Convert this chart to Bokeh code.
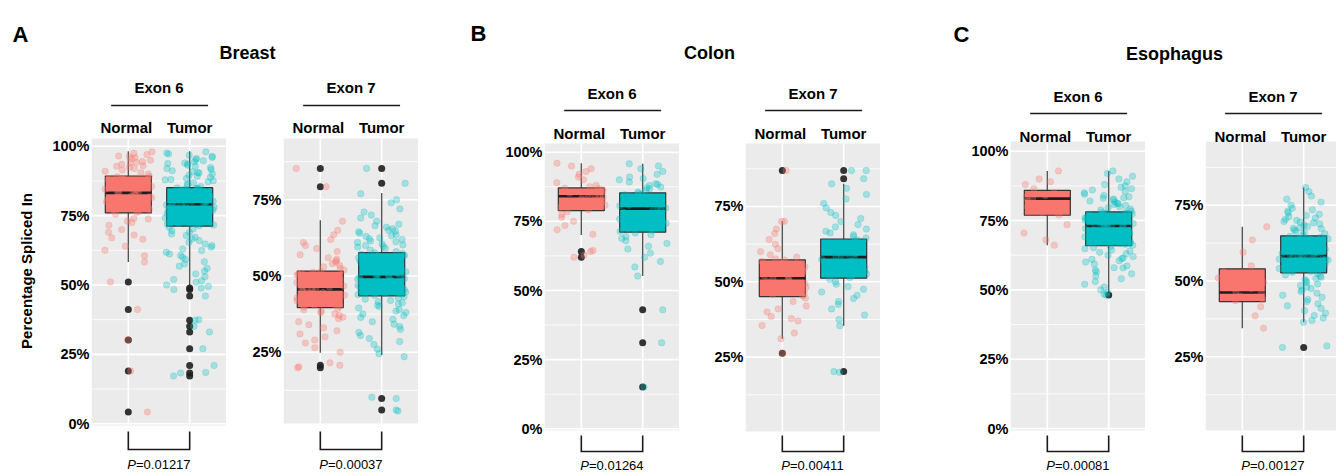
import math
from bokeh.plotting import figure
from bokeh.models import Range1d, FixedTicker, PrintfTickFormatter
from bokeh.layouts import column, row
from bokeh.embed import file_html
from bokeh.resources import INLINE
from bokeh.core.properties import value

# ---------------- data ----------------
groups = ["Normal", "Tumor"]
tissues = ["Breast", "Colon", "Esophagus"]
panel_letters = ["A", "B", "C"]
exon_labels = ["Exon 6", "Exon 7"]
p_values = ["0.01217", "0.00037", "0.01264", "0.00411", "0.00081", "0.00127"]
y_title = "Percentage Spliced In"
ticks_exon6 = [0, 25, 50, 75, 100]
ticks_exon7 = [25, 50, 75]
minor_ticks = [12.5, 37.5, 62.5, 87.5]

# box stats: [lower whisker, Q1, median, Q3, upper whisker]
breast_e6_box_normal = [58.3, 76.0, 83.2, 89.3, 98.2]
breast_e6_box_tumor = [49.9, 71.2, 79.1, 85.1, 98.2]
breast_e6_out_normal = [51.1, 41.2, 30.2, 19.0, 4.2]
breast_e6_out_tumor = [48.9, 48.4, 46.0, 37.3, 35.1, 33.1, 27.0, 21.0, 18.3, 17.2]
breast_e6_normal = [90, 91, 91.5, 92, 92.5, 93, 93.5, 94, 94.5, 95, 95.5, 96, 96.5, 97, 97.5, 98, 90.5, 92.8, 94.2, 96.2,
                    83.5, 84, 84.5, 85, 85.5, 86, 86.5, 87, 87.5, 88, 88.5, 89, 84.2, 85.8, 86.8, 87.8, 88.2, 89.1, 83.8, 86.2,
                    76.5, 77, 77.5, 78, 78.5, 79, 79.5, 80, 80.5, 81, 81.5, 82, 82.5, 83, 77.2, 78.8, 80.2, 81.8, 79.8, 76.2,
                    75.5, 74, 73, 72.5, 71.5, 70, 69, 68, 67, 66.5, 64, 62.5, 60.5, 58.3, 51.1, 41.2, 30.2, 19.0, 4.2, 73.8]
breast_e6_tumor = [85.5, 86, 86.4, 86.8, 87.2, 87.6, 88, 88.4, 88.8, 89.2, 89.6, 90, 90.4, 90.8, 91.2, 91.6, 92, 92.4, 92.8,
                   93.2, 93.6, 94, 94.4, 94.8, 95.2, 95.6, 96, 96.4, 96.8, 97.2, 97.6, 98, 87.9, 90.6, 93.8,
                   79.3, 79.6, 79.9, 80.2, 80.5, 80.8, 81.1, 81.4, 81.7, 82, 82.3, 82.6, 82.9, 83.2, 83.5, 83.8, 84.1, 84.4,
                   84.7, 85, 79.4, 80.1, 80.9, 81.6, 82.4, 83.1, 83.9, 84.6, 80.4, 81.3, 82.1, 82.8, 83.6, 84.3, 84.9,
                   71.4, 71.8, 72.2, 72.6, 73, 73.4, 73.8, 74.2, 74.6, 75, 75.4, 75.8, 76.2, 76.6, 77, 77.4, 77.8, 78.2,
                   78.6, 79, 71.6, 72.4, 73.2, 74, 74.8, 75.6, 76.4, 77.2, 78, 78.8, 72, 73.6, 75.2, 76.8, 78.4,
                   70.8, 70.2, 69.6, 69, 68.4, 67.8, 67.2, 66.6, 66, 65.4, 64.8, 64.2, 63.6, 63, 62.4, 61.8, 61.2, 60.6,
                   60, 59.2, 58.4, 57.6, 56.8, 56, 55, 54, 53, 52, 51, 50, 48.9, 48.4, 46, 37.3, 35.1, 33.1, 27, 21,
                   18.3, 17.2, 37.5, 18.5, 49.5, 51.5]

breast_e7_box_normal = [24.8, 39.6, 45.6, 51.6, 68.3]
breast_e7_box_tumor = [24.1, 43.5, 49.7, 57.7, 77.2]
breast_e7_out_normal = [85.3, 79.3, 20.7, 19.9]
breast_e7_out_tumor = [85.3, 80.4, 9.8, 6.0]
breast_e7_normal = [52, 52.5, 53, 53.5, 54, 54.5, 55, 55.5, 56, 57, 58, 59, 60, 61, 62, 63.5, 65, 68, 85.3, 79.3,
                    45.8, 46.1, 46.4, 46.7, 47, 47.3, 47.6, 47.9, 48.2, 48.5, 48.8, 49.1, 49.4, 49.7, 50, 50.3, 50.6,
                    50.9, 51.2, 51.5,
                    39.8, 40.1, 40.4, 40.7, 41, 41.3, 41.6, 41.9, 42.2, 42.5, 42.8, 43.1, 43.4, 43.7, 44, 44.3, 44.6,
                    44.9, 45.2, 45.5,
                    39.3, 38.9, 38.5, 38, 37.5, 37, 36.5, 36, 35, 34, 33, 32, 31, 30, 29, 28, 26.5, 25, 20.7, 19.9,
                    21.5, 20.2]
breast_e7_tumor = [58, 58.5, 59, 59.5, 60, 60.5, 61, 61.5, 62, 62.5, 63, 63.5, 64, 64.5, 65, 65.5, 66, 67, 68, 69, 70,
                   71, 72, 74, 75, 77, 85.3, 80.4, 60.2, 61.2, 62.2, 63.2, 59.7, 64.8, 66.5,
                   49.9, 50.2, 50.5, 50.8, 51.1, 51.4, 51.7, 52, 52.3, 52.6, 52.9, 53.2, 53.5, 53.8, 54.1, 54.4, 54.7,
                   55, 55.3, 55.6, 55.9, 56.2, 56.5, 56.8, 57.1, 57.4, 57.6, 50.4, 51.3, 52.4, 53.6, 54.6, 55.8, 56.7, 51.9,
                   43.7, 43.9, 44.1, 44.3, 44.5, 44.7, 44.9, 45.1, 45.3, 45.5, 45.7, 45.9, 46.1, 46.3, 46.5, 46.7, 46.9,
                   47.1, 47.3, 47.5, 47.7, 47.9, 48.1, 48.3, 48.5, 48.7, 48.9, 49.1, 49.3, 49.5, 44.2, 45.4, 46.6, 47.8, 49,
                   43.2, 42.8, 42.4, 42, 41.6, 41.2, 40.8, 40.4, 40, 39.5, 39, 38.5, 38, 37.5, 37, 36.4, 35.8, 35, 34.2,
                   33.4, 32.5, 31.5, 30.5, 29.5, 28.5, 27.5, 26, 24.5, 23.5, 9.8, 6, 5.7, 10.2]

colon_e6_box_normal = [70.1, 78.9, 84.1, 87.1, 96.0]
colon_e6_box_tumor = [55.2, 71.1, 79.6, 85.3, 95.8]
colon_e6_out_normal = [64.1, 62.0]
colon_e6_out_tumor = [43.0, 31.1, 15.1]
colon_e6_normal = [87.5, 88, 89, 90, 91, 92, 93, 94, 95, 96,
                   84.3, 84.8, 85.2, 85.6, 86, 86.4, 86.8, 87,
                   79.2, 80, 80.8, 81.6, 82.4, 83.2, 83.8, 84,
                   78.5, 77.5, 76.5, 75, 73.5, 72, 70.3, 64.1, 62.0, 64.5, 62.7]
colon_e6_tumor = [85.6, 86.2, 86.8, 87.4, 88, 88.6, 89.2, 90, 91, 92, 93, 94, 95, 95.8, 87.1, 88.3, 90.5,
                  79.8, 80.3, 80.8, 81.3, 81.8, 82.3, 82.8, 83.3, 83.8, 84.3, 84.8, 85.1, 80.6, 82, 83.6, 84.6,
                  71.3, 71.8, 72.3, 72.8, 73.3, 73.8, 74.3, 74.8, 75.3, 75.8, 76.3, 76.8, 77.3, 77.8, 78.3, 78.8, 79.3,
                  70.8, 70.2, 69.5, 68.8, 68, 67, 66, 65, 63.5, 62, 60.5, 58.5, 55.2, 43, 31.1, 15.1]

colon_e7_box_normal = [31.1, 45.1, 51.2, 57.3, 70.1]
colon_e7_box_tumor = [35.4, 51.2, 58.2, 64.2, 82.5]
colon_e7_out_normal = [86.9, 26.3]
colon_e7_out_tumor = [86.9, 84.2, 20.2]
colon_e7_normal = [57.6, 58.2, 59, 60, 61, 62.5, 64, 66, 67.5, 70.1, 70, 86.9,
                   51.5, 52, 52.6, 53.2, 53.8, 54.4, 55, 55.6, 56.2, 56.8, 57.2,
                   45.3, 45.8, 46.4, 47, 47.6, 48.2, 48.8, 49.4, 50, 50.6, 51.1,
                   44.6, 43.5, 42, 41, 40, 38.5, 37.8, 37, 35.5, 33, 31.1, 26.3]
colon_e7_tumor = [64.5, 65, 65.6, 66.2, 66.8, 67.5, 68.2, 69, 70, 71, 72, 73, 74.5, 76, 77.5, 79, 81, 82.5, 84.2, 86.9, 86.9,
                  58.4, 58.9, 59.4, 59.9, 60.4, 60.9, 61.4, 61.9, 62.4, 62.9, 63.4, 63.9, 59.1, 60.2, 61.1,
                  51.4, 51.9, 52.4, 52.9, 53.4, 53.9, 54.4, 54.9, 55.4, 55.9, 56.4, 56.9, 57.4, 57.9, 52.6,
                  50.8, 50, 49.2, 48.4, 47.5, 46.6, 45.5, 44.5, 43.5, 42.5, 41, 39, 37.5, 35.4, 20.2, 20]

esoph_e6_box_normal = [66.1, 76.9, 82.9, 85.9, 92.9]
esoph_e6_box_tumor = [49.0, 65.9, 73.0, 78.1, 92.9]
esoph_e6_out_normal = []
esoph_e6_out_tumor = [48.1]
esoph_e6_normal = [92.9, 90, 89, 88, 86.5, 85, 84, 83.5, 83, 82, 80, 79, 78, 77, 73.5, 70.5, 66.1, 68]
esoph_e6_tumor = [78.4, 78.8, 79.2, 79.6, 80, 80.4, 80.8, 81.2, 81.6, 82, 82.4, 82.8, 83.2, 83.6, 84, 84.5, 85, 85.5,
                  86, 86.5, 87, 87.5, 88, 89, 90, 91, 92, 92.9, 81, 83,
                  73.2, 73.5, 73.8, 74.1, 74.4, 74.7, 75, 75.3, 75.6, 75.9, 76.2, 76.5, 76.8, 77.1, 77.4, 77.7, 78,
                  73.9, 74.9, 75.9, 76.9, 77.6, 74.3, 75.4, 76.3, 77.3, 73.4, 75.1, 76.6, 77.9,
                  66.1, 66.4, 66.7, 67, 67.3, 67.6, 67.9, 68.2, 68.5, 68.8, 69.1, 69.4, 69.7, 70, 70.3, 70.6, 70.9,
                  71.2, 71.5, 71.8, 72.1, 72.4, 72.7, 72.9, 66.9, 68, 69.2, 70.4, 71.6, 72.6,
                  65.6, 65.2, 64.8, 64.4, 64, 63.5, 63, 62.5, 62, 61.5, 61, 60.5, 60, 59.3, 58.6, 57.9, 57.2, 56.5,
                  55.8, 55, 54, 53, 52, 51, 50, 49, 48.1, 48.5, 58, 61.3]

esoph_e7_box_normal = [34.4, 43.2, 46.2, 54.0, 67.9]
esoph_e7_box_tumor = [36.4, 52.7, 58.2, 64.9, 80.8]
esoph_e7_out_normal = []
esoph_e7_out_tumor = [28.1]
esoph_e7_normal = [67.9, 63.5, 59.5, 55, 53, 51, 49.5, 47.5, 46.5, 46, 45, 44, 43.5, 41.5, 38.5, 34.4]
esoph_e7_tumor = [65.2, 65.6, 66, 66.4, 66.8, 67.2, 67.6, 68, 68.4, 68.8, 69.2, 69.6, 70, 70.4, 70.8, 71.2, 71.6, 72,
                  72.5, 73, 73.5, 74, 75, 76, 77, 78, 79.5, 80.8, 67.4, 69.4,
                  58.4, 58.7, 59, 59.3, 59.6, 59.9, 60.2, 60.5, 60.8, 61.1, 61.4, 61.7, 62, 62.3, 62.6, 62.9, 63.2,
                  63.5, 63.8, 64.1, 64.4, 64.7, 59.1, 60.4, 61.6, 62.8, 63.9, 58.9, 61.2, 64.2,
                  52.9, 53.1, 53.3, 53.5, 53.7, 53.9, 54.1, 54.3, 54.5, 54.7, 54.9, 55.1, 55.3, 55.5, 55.7, 55.9,
                  56.1, 56.3, 56.5, 56.7, 56.9, 57.1, 57.3, 57.5, 57.7, 57.9, 58.1, 54, 55.6, 57.2,
                  52.4, 52, 51.6, 51.2, 50.8, 50.4, 50, 49.5, 49, 48.5, 48, 47.5, 47, 46.5, 46, 45.3, 44.6, 43.9,
                  43.2, 42.5, 41.8, 41, 40.2, 39.4, 38.6, 37.8, 37, 36.4, 28.1, 28.6]

# ---------------- styling / layout ----------------
PINK = "#F8766D"
TEAL = "#00BFC4"
FONT = "Liberation Sans"
PX_PER_UNIT = 135 / 2.2
TOP = 68       # page y where panel figures start
BOTTOM = 473   # page y where panel figures end
PANEL_H = BOTTOM - TOP
HEADER_H = TOP
PAGE_W = 1336

geometry = [
    dict(cl=0, fl=91, fr=226, y0=423.2, ppp=2.774, ptop=138, pbot=425, tb=87, ly=105, lb=127, bt=431, bb=449, pb=464),
    dict(cl=226, fl=283, fr=418, y0=427.9, ppp=3.048, ptop=138, pbot=423, tb=87, ly=105, lb=127, bt=431, bb=449, pb=464),
    dict(cl=418, fl=544, fr=679, y0=428.3, ppp=2.766, ptop=143, pbot=430, tb=93, ly=110, lb=133, bt=435, bb=451, pb=465),
    dict(cl=679, fl=745, fr=880, y0=432.0, ppp=3.014, ptop=143, pbot=431, tb=93, ly=110, lb=133, bt=435, bb=451, pb=465),
    dict(cl=880, fl=1010, fr=1145, y0=428.0, ppp=2.773, ptop=141, pbot=430, tb=96, ly=113, lb=136, bt=435, bb=451, pb=465),
    dict(cl=1145, fl=1205, fr=1336, y0=432.1, ppp=3.032, ptop=141, pbot=430, tb=96, ly=113, lb=136, bt=435, bb=451, pb=465),
]

panels = [
    (exon_labels[0], p_values[0], breast_e6_normal, breast_e6_tumor, breast_e6_box_normal, breast_e6_box_tumor,
     breast_e6_out_normal, breast_e6_out_tumor, ticks_exon6),
    (exon_labels[1], p_values[1], breast_e7_normal, breast_e7_tumor, breast_e7_box_normal, breast_e7_box_tumor,
     breast_e7_out_normal, breast_e7_out_tumor, ticks_exon7),
    (exon_labels[0], p_values[2], colon_e6_normal, colon_e6_tumor, colon_e6_box_normal, colon_e6_box_tumor,
     colon_e6_out_normal, colon_e6_out_tumor, ticks_exon6),
    (exon_labels[1], p_values[3], colon_e7_normal, colon_e7_tumor, colon_e7_box_normal, colon_e7_box_tumor,
     colon_e7_out_normal, colon_e7_out_tumor, ticks_exon7),
    (exon_labels[0], p_values[4], esoph_e6_normal, esoph_e6_tumor, esoph_e6_box_normal, esoph_e6_box_tumor,
     esoph_e6_out_normal, esoph_e6_out_tumor, ticks_exon6),
    (exon_labels[1], p_values[5], esoph_e7_normal, esoph_e7_tumor, esoph_e7_box_normal, esoph_e7_box_tumor,
     esoph_e7_out_normal, esoph_e7_out_tumor, ticks_exon7),
]


def jitter_offsets(n, seed):
    # deterministic horizontal spread (position only, not data values)
    out = []
    for i in range(n):
        h = math.sin((i + 1) * 12.9898 + seed * 78.233) * 43758.5453
        out.append(((h - math.floor(h)) - 0.5) * 0.8)
    return out


def build_panel(k, exon, pval, pts_n, pts_t, box_n, box_t, out_n, out_t, ticks, geo):
    fl, fr, cl = geo["fl"], geo["fr"], geo["cl"]
    x_end = 0.4 + (fr - fl) / PX_PER_UNIT

    def v(py):
        return (geo["y0"] - py) / geo["ppp"]

    p = figure(width=fr - cl, height=PANEL_H, x_range=Range1d(0.4, x_end), y_range=Range1d(v(BOTTOM), v(TOP)),
               x_axis_location=None, toolbar_location=None, output_backend="svg",
               min_border=0, min_border_left=fl - cl, min_border_right=0, min_border_top=0, min_border_bottom=0,
               outline_line_color=None, background_fill_color="white", border_fill_color="white")
    p.grid.visible = False

    yb, yt = v(geo["pbot"]), v(geo["ptop"])
    xs = [1, 2]
    # panel background + grid
    p.quad(left=[0.4], right=[x_end], bottom=[yb], top=[yt], fill_color="#EBEBEB", line_color=None)
    mn = [t for t in minor_ticks if yb < t < yt]
    p.segment(x0=0.4, x1=x_end, y0=mn, y1=mn, line_color="white", line_width=0.8)
    p.segment(x0=0.4, x1=x_end, y0=ticks, y1=ticks, line_color="white", line_width=1.6)
    p.segment(x0=xs, x1=xs, y0=yb, y1=yt, line_color="white", line_width=1.6)

    # boxes
    boxes = [box_n, box_t]
    p.segment(x0=xs, x1=xs, y0=[b[0] for b in boxes], y1=[b[1] for b in boxes], line_color="#555555", line_width=1.4)
    p.segment(x0=xs, x1=xs, y0=[b[3] for b in boxes], y1=[b[4] for b in boxes], line_color="#555555", line_width=1.4)
    p.vbar(x=xs, width=0.75, bottom=[b[1] for b in boxes], top=[b[3] for b in boxes],
           fill_color=[PINK, TEAL], line_color="#333333", line_width=1.2)
    p.segment(x0=[x - 0.375 for x in xs], x1=[x + 0.375 for x in xs], y0=[b[2] for b in boxes],
              y1=[b[2] for b in boxes], line_color="#1E1E1E", line_width=2.6)
    # outliers
    ox = [1] * len(out_n) + [2] * len(out_t)
    p.scatter(x=ox, y=list(out_n) + list(out_t), size=7, fill_color="#1E1E1E", fill_alpha=0.9, line_color=None)
    # jittered points
    jn = jitter_offsets(len(pts_n), 1.7 + k)
    jt = jitter_offsets(len(pts_t), 9.3 + k)
    p.scatter(x=[1 + o for o in jn], y=pts_n, size=6.5, fill_color=PINK, fill_alpha=0.32,
              line_color=PINK, line_alpha=0.2)
    p.scatter(x=[2 + o for o in jt], y=pts_t, size=6.5, fill_color=TEAL, fill_alpha=0.3,
              line_color=TEAL, line_alpha=0.2)

    # y axis
    ax = p.yaxis[0]
    ax.ticker = FixedTicker(ticks=ticks, minor_ticks=[])
    ax.formatter = PrintfTickFormatter(format="%d%%")
    ax.axis_line_color = None
    ax.major_tick_line_color = None
    ax.minor_tick_line_color = None
    ax.major_tick_out = 0
    ax.major_tick_in = 0
    ax.major_label_standoff = 2
    ax.major_label_text_font = FONT
    ax.major_label_text_font_style = "bold"
    ax.major_label_text_font_size = "14.5px"
    ax.major_label_text_color = "black"
    if k == 0:
        ax.axis_label = y_title
        ax.axis_label_standoff = 14
        ax.axis_label_text_font = FONT
        ax.axis_label_text_font_style = "bold"
        ax.axis_label_text_font_size = "15px"
        ax.axis_label_text_color = "black"

    # headers
    tkw = dict(text_font=value(FONT), text_color="black", text_baseline="alphabetic")
    p.text(x=[1.5], y=[v(geo["tb"])], text=[exon], text_font_style="bold", text_font_size="15px",
           text_align="center", **tkw)
    p.segment(x0=[0.72], x1=[2.3], y0=[v(geo["ly"])], y1=[v(geo["ly"])], line_color="#1A1A1A", line_width=1.6)
    p.text(x=xs, y=[v(geo["lb"])] * 2, text=groups, x_offset=[-2, 0], text_font_style="bold",
           text_font_size="15px", text_align="center", **tkw)

    # significance bracket
    bt, bb = v(geo["bt"]), v(geo["bb"])
    p.line(x=[1, 1, 2, 2], y=[bt, bb, bb, bt], line_color="#1A1A1A", line_width=1.6, line_join="miter")
    p.text(x=[1.5], y=[v(geo["pb"])], text=["P"], x_offset=-23, text_align="right",
           text_font_style="italic", text_font_size="13px", **tkw)
    p.text(x=[1.5], y=[v(geo["pb"])], text=["=" + pval], x_offset=-23, text_align="left",
           text_font_size="13px", **tkw)
    return p


figs = [build_panel(k, *panels[k], geometry[k]) for k in range(6)]

# header with panel letters and tissue titles
hdr = figure(width=PAGE_W, height=HEADER_H, x_range=Range1d(0, PAGE_W), y_range=Range1d(TOP, 0),
             x_axis_location=None, y_axis_location=None, toolbar_location=None, output_backend="svg",
             min_border=0, min_border_left=0, min_border_right=0, min_border_top=0, min_border_bottom=0,
             outline_line_color=None, background_fill_color="white", border_fill_color="white")
hdr.grid.visible = False
hdr.text(x=[12, 470, 953], y=[33.5, 32.5, 33.5], text=panel_letters, text_font=value(FONT), text_font_style="bold",
         text_font_size="22px", text_align="left", text_baseline="alphabetic", text_color="black")
hdr.text(x=[247, 709, 1174], y=[52, 52, 53], text=tissues, text_font=value(FONT), text_font_style="bold",
         text_font_size="18px", text_align="center", text_baseline="alphabetic", text_color="black")

layout = column(hdr, row(*figs, spacing=0), spacing=0)
open("out.html", "w").write(file_html(layout, INLINE))
